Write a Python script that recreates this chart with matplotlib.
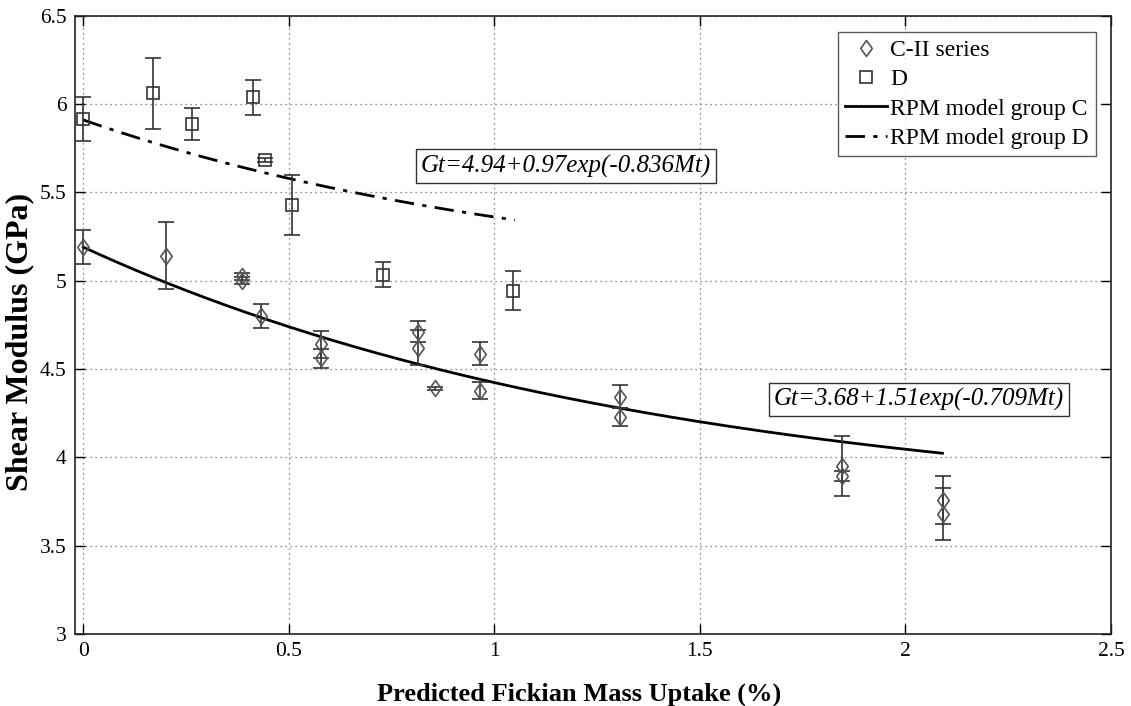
import numpy as np
import matplotlib.pyplot as plt
from matplotlib.path import Path

plt.rcParams['font.family'] = ['Liberation Serif', 'DejaVu Serif']

# group C-II (diamonds)
c_mass = [0.0, 0.201, 0.386, 0.386, 0.433, 0.579, 0.579, 0.815, 0.815, 0.856,
          0.965, 0.965, 1.306, 1.306, 1.846, 1.846, 2.092, 2.092]
c_shear = [5.19, 5.14, 5.025, 5.00, 4.80, 4.64, 4.56, 4.71, 4.62, 4.39,
           4.585, 4.378, 4.344, 4.227, 3.952, 3.895, 3.759, 3.68]
c_err = [0.097, 0.19, 0.02, 0.02, 0.07, 0.075, 0.055, 0.06, 0.10, 0.01,
         0.065, 0.047, 0.066, 0.05, 0.17, 0.03, 0.137, 0.147]

# group D (squares)
d_mass = [0.0, 0.169, 0.264, 0.412, 0.4425, 0.507, 0.729, 1.046]
d_shear = [5.915, 6.061, 5.885, 6.038, 5.683, 5.429, 5.033, 4.944]
d_err = [0.127, 0.20, 0.09, 0.10, 0.01, 0.17, 0.07, 0.11]

# RPM model coefficients shown on the chart: Gt = a + b*exp(-k*Mt), up to Mt max
model_c = [3.68, 1.51, 0.709, 2.09]
model_d = [4.94, 0.97, 0.836, 1.05]

fig = plt.figure(figsize=(11.31, 7.06), dpi=100)
ax = fig.add_axes([0.0663, 0.102, 0.9160, 0.8758])

diamond = Path([(0, 1), (0.72, 0), (0, -1), (-0.72, 0), (0, 1)],
               [Path.MOVETO, Path.LINETO, Path.LINETO, Path.LINETO, Path.CLOSEPOLY])

grey = '#555555'
ax.errorbar(c_mass, c_shear, yerr=c_err, fmt='none', ecolor='#333333',
            elinewidth=1.2, capsize=6, capthick=1.2, zorder=3)
ax.errorbar(d_mass, d_shear, yerr=d_err, fmt='none', ecolor='#333333',
            elinewidth=1.2, capsize=6, capthick=1.2, zorder=3)

ax.plot(c_mass, c_shear, linestyle='none', marker=diamond, markersize=11.5,
        markerfacecolor='none', markeredgecolor=grey, markeredgewidth=1.2,
        label='C-II series', zorder=4)
ax.plot(d_mass, d_shear, linestyle='none', marker='s', markersize=8.5,
        markerfacecolor='none', markeredgecolor='#333333', markeredgewidth=1.2,
        label='D', zorder=4)

mc = np.linspace(0, model_c[3], 200)
ax.plot(mc, model_c[0] + model_c[1] * np.exp(-model_c[2] * mc), color='black',
        linewidth=2, label='RPM model group C', zorder=2)
md = np.linspace(0, model_d[3], 200)
ax.plot(md, model_d[0] + model_d[1] * np.exp(-model_d[2] * md), color='black',
        linewidth=2, dashes=(7, 3, 1.5, 3), label='RPM model group D', zorder=2)

box = dict(boxstyle='square,pad=0.2', facecolor='white', edgecolor='#333333', linewidth=1)
ax.text(1.174, 5.649, 'Gt=4.94+0.97exp(-0.836Mt)', style='italic', fontsize=18,
        ha='center', va='center', bbox=box)
ax.text(2.033, 4.325, 'Gt=3.68+1.51exp(-0.709Mt)', style='italic', fontsize=18,
        ha='center', va='center', bbox=box)

ax.set_xlim(-0.02, 2.5)
ax.set_ylim(3, 6.5)
ax.set_xticks([0, 0.5, 1, 1.5, 2, 2.5])
ax.set_xticklabels(['0', '0.5', '1', '1.5', '2', '2.5'])
ax.set_yticks([3, 3.5, 4, 4.5, 5, 5.5, 6, 6.5])
ax.set_yticklabels(['3', '3.5', '4', '4.5', '5', '5.5', '6', '6.5'])
ax.tick_params(direction='in', length=7, width=1, top=True, right=True,
               labelsize=15.5, pad=6)
ax.grid(True, linestyle=(0, (1, 3)), color='#666666', linewidth=0.9)
for s in ax.spines.values():
    s.set_linewidth(1.2)
    s.set_color('#222222')

ax.set_xlabel('Predicted Fickian Mass Uptake (%)', fontsize=19, fontweight='bold')
ax.xaxis.set_label_coords(0.487, -0.078)
ax.set_ylabel('Shear Modulus (GPa)', fontsize=23, fontweight='bold')
ax.yaxis.set_label_coords(-0.039, 0.472)

leg = ax.legend(loc='upper right', bbox_to_anchor=(0.9855, 0.973), fontsize=17,
                frameon=True, fancybox=False, edgecolor='#333333', handlelength=1.75,
                handletextpad=0.15, borderpad=0.3, labelspacing=0.33, borderaxespad=0)
leg.get_frame().set_linewidth(1)

fig.savefig('out.png', dpi=100)
